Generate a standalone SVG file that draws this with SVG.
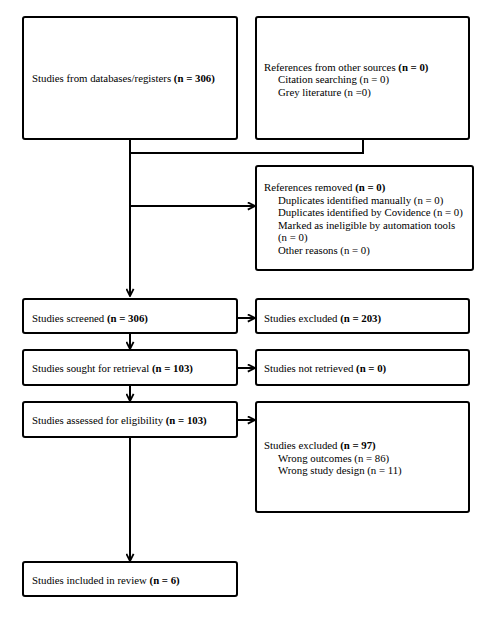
<svg xmlns="http://www.w3.org/2000/svg" width="492" height="630" viewBox="0 0 492 630">
<style>
.box{fill:#fff;stroke:#000;stroke-width:2;}
.t{font-family:"Liberation Serif","Times New Roman",serif;font-size:10.8px;fill:#000;}
.b{font-weight:bold;}
.c{fill:none;stroke:#000;stroke-width:2;}
</style>
<defs>
<marker id="ah" viewBox="0 0 10 10" refX="9" refY="5" markerWidth="4.5" markerHeight="4.5" orient="auto" markerUnits="strokeWidth">
<path d="M1,1 L9,5 L1,9" fill="none" stroke="#000" stroke-width="2"/>
</marker>
</defs>
<rect width="492" height="630" fill="#fff"/>
<g id="connectors">
<path class="c" d="M130,139 V153 H363 V139"/>
<path class="c" d="M130,153 V296" marker-end="url(#ah)"/>
<path class="c" d="M130,206 H255" marker-end="url(#ah)"/>
<path class="c" d="M237,318 H255" marker-end="url(#ah)"/>
<path class="c" d="M130,333 V349" marker-end="url(#ah)"/>
<path class="c" d="M237,368 H255" marker-end="url(#ah)"/>
<path class="c" d="M130,385 V401" marker-end="url(#ah)"/>
<path class="c" d="M237,420 H255" marker-end="url(#ah)"/>
<path class="c" d="M130,437 V561" marker-end="url(#ah)"/>
</g>
<g id="db">
<rect class="box" x="23" y="17" width="214" height="122" rx="2"/>
<text class="t" x="32" y="82">Studies from databases/registers <tspan class="b">(n = 306)</tspan></text>
</g>
<g id="other">
<rect class="box" x="256" y="17" width="213" height="122" rx="2"/>
<text class="t" x="264" y="70.5">References from other sources <tspan class="b">(n = 0)</tspan></text>
<text class="t" x="278" y="83">Citation searching (n = 0)</text>
<text class="t" x="278" y="95.5">Grey literature (n =0)</text>
</g>
<g id="removed">
<rect class="box" x="256" y="166" width="217" height="104" rx="2"/>
<text class="t" x="264" y="191">References removed <tspan class="b">(n = 0)</tspan></text>
<text class="t" x="278" y="203.5">Duplicates identified manually (n = 0)</text>
<text class="t" x="278" y="216">Duplicates identified by Covidence (n = 0)</text>
<text class="t" x="278" y="228.5">Marked as ineligible by automation tools</text>
<text class="t" x="278" y="241">(n = 0)</text>
<text class="t" x="278" y="253.5">Other reasons (n = 0)</text>
</g>
<g id="screened">
<rect class="box" x="23" y="299" width="214" height="34" rx="2"/>
<text class="t" x="32" y="322">Studies screened <tspan class="b">(n = 306)</tspan></text>
</g>
<g id="excluded1">
<rect class="box" x="256" y="299" width="213" height="34" rx="2"/>
<text class="t" x="264" y="322">Studies excluded <tspan class="b">(n = 203)</tspan></text>
</g>
<g id="sought">
<rect class="box" x="23" y="350" width="214" height="35" rx="2"/>
<text class="t" x="32" y="372">Studies sought for retrieval <tspan class="b">(n = 103)</tspan></text>
</g>
<g id="notretrieved">
<rect class="box" x="256" y="350" width="213" height="35" rx="2"/>
<text class="t" x="264" y="372">Studies not retrieved <tspan class="b">(n = 0)</tspan></text>
</g>
<g id="assessed">
<rect class="box" x="23" y="402" width="214" height="35" rx="2"/>
<text class="t" x="32" y="424">Studies assessed for eligibility <tspan class="b">(n = 103)</tspan></text>
</g>
<g id="excluded2">
<rect class="box" x="256" y="402" width="213" height="110" rx="2"/>
<text class="t" x="264" y="449">Studies excluded <tspan class="b">(n = 97)</tspan></text>
<text class="t" x="278" y="461.5">Wrong outcomes (n = 86)</text>
<text class="t" x="278" y="474">Wrong study design (n = 11)</text>
</g>
<g id="included">
<rect class="box" x="23" y="562" width="214" height="34" rx="2"/>
<text class="t" x="32" y="584">Studies included in review <tspan class="b">(n = 6)</tspan></text>
</g>
</svg>
